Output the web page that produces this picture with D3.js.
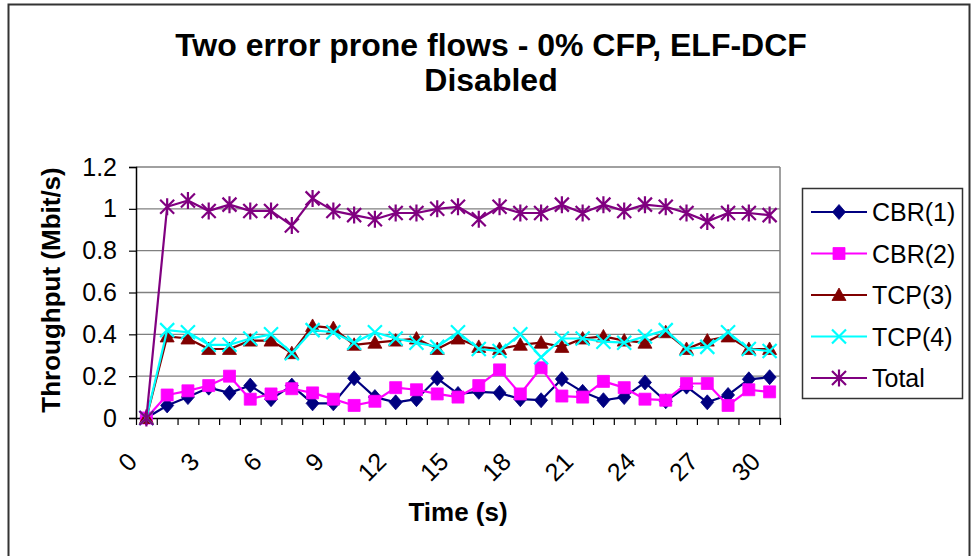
<!DOCTYPE html>
<html>
<head>
<meta charset="utf-8">
<script src="https://cdn.jsdelivr.net/npm/d3@7"></script>
<style>
  html, body { margin: 0; padding: 0; background: #fff; }
  svg { display: block; font-family: "Liberation Sans", Arial, sans-serif; }
</style>
</head>
<body>
<svg id="chart" width="972" height="556"></svg>
<script>
// Time axis categories (seconds)
const times = [0,1,2,3,4,5,6,7,8,9,10,11,12,13,14,15,16,17,18,19,20,21,22,23,24,25,26,27,28,29,30];
const timeTickLabels = ["0","3","6","9","12","15","18","21","24","27","30"];
const yTickValues = [0, 0.2, 0.4, 0.6, 0.8, 1, 1.2];

// Throughput per flow (Mbit/s)
const cbr1 = [0, 0.06, 0.10, 0.145, 0.12, 0.155, 0.09, 0.155, 0.07, 0.07, 0.19, 0.10, 0.075, 0.09, 0.19, 0.115,
              0.125, 0.12, 0.09, 0.085, 0.186, 0.125, 0.085, 0.10, 0.17, 0.08, 0.15, 0.075, 0.11, 0.185, 0.195];
const cbr2 = [0, 0.11, 0.13, 0.155, 0.20, 0.09, 0.115, 0.14, 0.12, 0.09, 0.06, 0.08, 0.145, 0.135, 0.115, 0.10,
              0.155, 0.23, 0.115, 0.24, 0.105, 0.10, 0.175, 0.145, 0.09, 0.085, 0.165, 0.165, 0.06, 0.135, 0.125];
const tcp3 = [0, 0.39, 0.38, 0.33, 0.33, 0.37, 0.37, 0.31, 0.44, 0.43, 0.35, 0.36, 0.37, 0.38, 0.33, 0.38,
              0.34, 0.33, 0.35, 0.36, 0.34, 0.38, 0.39, 0.37, 0.36, 0.41, 0.33, 0.37, 0.39, 0.33, 0.33];
const tcp4 = [0, 0.42, 0.41, 0.35, 0.35, 0.38, 0.40, 0.31, 0.42, 0.41, 0.36, 0.41, 0.38, 0.36, 0.34, 0.41,
              0.33, 0.32, 0.40, 0.29, 0.38, 0.38, 0.365, 0.36, 0.39, 0.42, 0.33, 0.34, 0.41, 0.33, 0.32];
const total = [0, 1.01, 1.04, 0.99, 1.02, 0.99, 0.99, 0.92, 1.05, 0.99, 0.97, 0.95, 0.98, 0.98, 1.0, 1.01,
               0.95, 1.01, 0.98, 0.98, 1.02, 0.98, 1.02, 0.99, 1.02, 1.01, 0.98, 0.94, 0.98, 0.98, 0.97];

const seriesNames = ["CBR(1)", "CBR(2)", "TCP(3)", "TCP(4)", "Total"];
const seriesColors = ["#000080", "#FF00FF", "#800000", "#00FFFF", "#800080"];
const seriesMarkers = ["diamond", "square", "triangle", "x", "asterisk"];
const seriesValues = [cbr1, cbr2, tcp3, tcp4, total];

const svg = d3.select("#chart");
const plot = { left: 136, right: 780, top: 167, bottom: 418 };

// Outer chart frame
svg.append("rect")
  .attr("x", 8.5).attr("y", 4.5).attr("width", 961).attr("height", 570)
  .attr("fill", "#fff").attr("stroke", "#333").attr("stroke-width", 2);

// Scales
const x = d3.scaleBand().domain(times).range([plot.left, plot.right]).paddingInner(0).paddingOuter(0);
const xEdge = d3.scaleLinear().domain([0, times.length]).range([plot.left, plot.right]);
const y = d3.scaleLinear().domain([0, 1.2]).range([plot.bottom, plot.top]);
const cx = t => x(t) + x.bandwidth() / 2;

// Horizontal gridlines
svg.append("g").selectAll("line")
  .data(yTickValues.filter(v => v > 0))
  .join("line")
  .attr("x1", plot.left).attr("x2", plot.right)
  .attr("y1", d => y(d)).attr("y2", d => y(d))
  .attr("stroke", "#808080").attr("stroke-width", 1.3);

// Right edge of the plot area
svg.append("line")
  .attr("x1", plot.right).attr("x2", plot.right)
  .attr("y1", plot.top).attr("y2", plot.bottom)
  .attr("stroke", "#808080").attr("stroke-width", 1.5);

// Y axis
const yAxis = svg.append("g")
  .attr("transform", `translate(${plot.left},0)`)
  .call(d3.axisLeft(y).tickValues(yTickValues).tickSize(7).tickPadding(12)
    .tickFormat(d => d3.format("")(+d.toFixed(1))));
yAxis.select(".domain").attr("stroke", "#000").attr("stroke-width", 1.5);
yAxis.selectAll(".tick line").attr("stroke", "#000").attr("stroke-width", 1.2);
yAxis.selectAll(".tick text").attr("font-size", 25).attr("fill", "#000")
  .attr("font-family", "'Liberation Sans', Arial, sans-serif");

// X axis: tick marks on category boundaries
const xAxis = svg.append("g")
  .attr("transform", `translate(0,${plot.bottom})`)
  .call(d3.axisBottom(xEdge).tickValues(d3.range(times.length + 1)).tickSize(7).tickSizeOuter(0).tickFormat(""));
xAxis.select(".domain").attr("stroke", "#000").attr("stroke-width", 1.5);
xAxis.selectAll(".tick line").attr("stroke", "#000").attr("stroke-width", 1.2);

// X labels, rotated
svg.append("g").selectAll("text")
  .data(timeTickLabels)
  .join("text")
  .attr("transform", d => `translate(${cx(+d) - 14},${plot.bottom + 39}) rotate(-45)`)
  .attr("text-anchor", "end")
  .attr("dy", "0.35em")
  .attr("font-size", 25)
  .attr("fill", "#000")
  .text(d => d);

// Marker shapes
function markerPath(type) {
  switch (type) {
    case "diamond": return "M0,-7.5L6.5,0L0,7.5L-6.5,0Z";
    case "square": return "M-6,-6H6V6H-6Z";
    case "triangle": return "M0,-7L7,5.5H-7Z";
    case "x": return "M-7,-7L7,7M-7,7L7,-7";
    case "asterisk": return "M-7,-7L7,7M-7,7L7,-7M0,-8.5V8.5";
  }
}
function styleMarker(sel, type, color) {
  if (type === "x" || type === "asterisk") {
    sel.attr("fill", "none").attr("stroke", color).attr("stroke-width", 2.2);
  } else {
    sel.attr("fill", color).attr("stroke", color).attr("stroke-width", 0.8);
  }
}

const line = d3.line().x((d, i) => cx(times[i])).y(d => y(d));

seriesValues.forEach((vals, k) => {
  const g = svg.append("g");
  g.append("path")
    .attr("d", line(vals))
    .attr("fill", "none")
    .attr("stroke", seriesColors[k])
    .attr("stroke-width", 2.2)
    .attr("stroke-linejoin", "round");
  g.selectAll("path.m")
    .data(vals)
    .join("path")
    .attr("class", "m")
    .attr("d", markerPath(seriesMarkers[k]))
    .attr("transform", (d, i) => `translate(${cx(times[i])},${y(d)})`)
    .call(styleMarker, seriesMarkers[k], seriesColors[k]);
});

// Title
const title = svg.append("text")
  .attr("text-anchor", "middle")
  .attr("font-size", 32).attr("font-weight", "bold").attr("fill", "#000");
title.append("tspan").attr("x", 491).attr("y", 56).text("Two error prone flows - 0% CFP, ELF-DCF");
title.append("tspan").attr("x", 491).attr("y", 91).text("Disabled");

// Axis titles
svg.append("text")
  .attr("transform", "translate(60,290) rotate(-90)")
  .attr("text-anchor", "middle")
  .attr("font-size", 26).attr("font-weight", "bold").attr("fill", "#000")
  .text("Throughput (Mbit/s)");
svg.append("text")
  .attr("x", 458).attr("y", 521)
  .attr("text-anchor", "middle")
  .attr("font-size", 26).attr("font-weight", "bold").attr("fill", "#000")
  .text("Time (s)");

// Legend
const legend = svg.append("g");
legend.append("rect")
  .attr("x", 802.5).attr("y", 188.5).attr("width", 160).attr("height", 210)
  .attr("fill", "#fff").attr("stroke", "#333").attr("stroke-width", 1.5);
const rows = legend.selectAll("g.row")
  .data(seriesNames)
  .join("g")
  .attr("class", "row")
  .attr("transform", (d, i) => `translate(0,${212 + i * 41.5})`);
rows.append("line")
  .attr("x1", 811).attr("x2", 867).attr("y1", 0).attr("y2", 0)
  .attr("stroke", (d, i) => seriesColors[i]).attr("stroke-width", 2.2);
rows.each(function (d, i) {
  d3.select(this).append("path")
    .attr("d", markerPath(seriesMarkers[i]))
    .attr("transform", "translate(839,0)")
    .call(styleMarker, seriesMarkers[i], seriesColors[i]);
});
rows.append("text")
  .attr("x", 872).attr("y", 9)
  .attr("font-size", 25).attr("fill", "#000")
  .text(d => d);
</script>
</body>
</html>
